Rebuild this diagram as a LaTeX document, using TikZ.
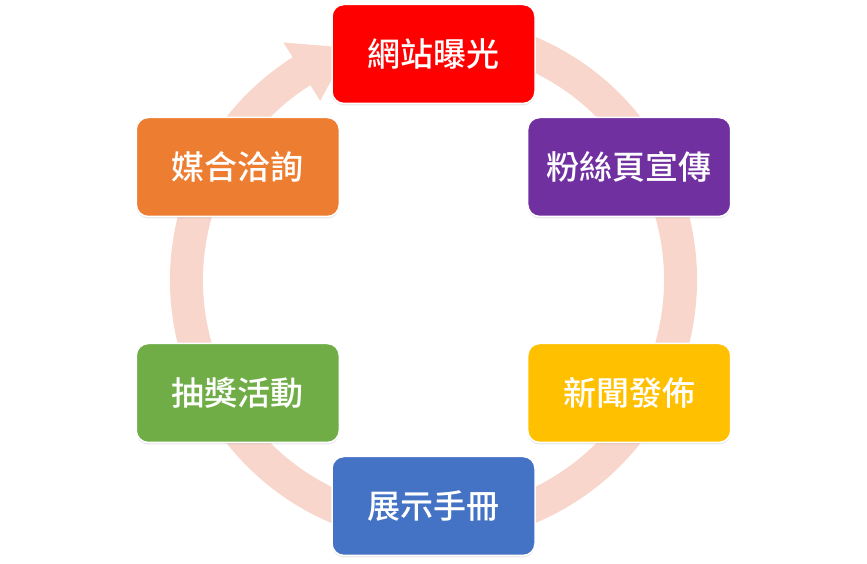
\documentclass[tikz,border=0pt]{standalone}
\usepackage{fontspec}
\newfontfamily\cjk{Noto Sans CJK TC Medium}
\usetikzlibrary{calc,shadows}
\definecolor{ringc}{HTML}{F8D6CC}
\definecolor{cred}{HTML}{FF0000}
\definecolor{cpurple}{HTML}{7030A0}
\definecolor{cyellow}{HTML}{FFC000}
\definecolor{cblue}{HTML}{4472C4}
\definecolor{cgreen}{HTML}{70AD47}
\definecolor{corange}{HTML}{ED7D31}
\tikzset{
  stagebox/.style={rounded corners=12pt, minimum width=203pt, minimum height=99pt,
    draw=white, line width=1.5pt, text=white, inner sep=0pt,
    font=\cjk\fontsize{33}{38}\selectfont,
    drop shadow={opacity=0.18, shadow xshift=0pt, shadow yshift=-2pt}},
  ring/.style={draw=ringc, line width=33pt}
}
\begin{document}
\begin{tikzpicture}[x=1pt,y=1pt]
\useasboundingbox (0,0) rectangle (867,564);
\coordinate (c) at (433.5,284);
% ring
\draw[ring] ($(c)+(80:247)$) arc[start angle=80, end angle=-238, radius=247];
\fill[ringc] ($(c)+(122.3:212)$) -- ($(c)+(122.3:281)$) -- ($(c)+(110:247)$) -- cycle;
% boxes
\node[stagebox, fill=cred]    (n1) at ($(c)+(90:226)$)  {網站曝光};
\node[stagebox, fill=cpurple] (n2) at ($(c)+(30:226)$)  {粉絲頁宣傳};
\node[stagebox, fill=cyellow] (n3) at ($(c)+(-30:226)$) {新聞發佈};
\node[stagebox, fill=cblue]   (n4) at ($(c)+(-90:226)$) {展示手冊};
\node[stagebox, fill=cgreen]  (n5) at ($(c)+(210:226)$) {抽獎活動};
\node[stagebox, fill=corange] (n6) at ($(c)+(150:226)$) {媒合洽詢};
\end{tikzpicture}
\end{document}
